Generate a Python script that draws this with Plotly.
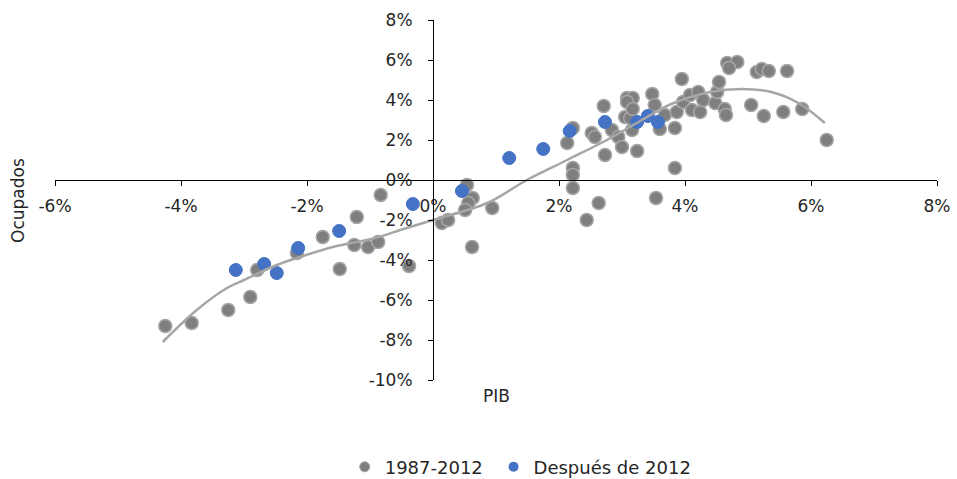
import plotly.graph_objects as go

# Series 1987-2012 (PIB %, Ocupados %)
pib_hist = [-4.25, -3.83, -3.25, -2.90, -2.79, -2.16, -1.75, -1.48, -1.21, -1.25, -1.03, -0.87, -0.83, -0.38,
            0.14, 0.24, 0.54, 0.63, 0.56, 0.51, 0.94, 0.62, 2.22, 2.22, 2.22, 2.63, 2.44, 3.54,
            2.13, 2.22, 2.52, 2.57, 2.71, 2.73, 2.84, 2.94, 3.00, 3.24, 3.16, 3.05, 3.13, 3.08, 3.17, 3.08,
            3.17, 3.48, 3.52, 3.68, 3.60, 3.84, 3.84, 3.87, 3.95, 3.97, 4.08, 4.21, 4.11, 4.24, 4.29, 4.48,
            4.51, 4.54, 4.63, 4.65, 4.67, 4.83, 4.70, 5.14, 5.22, 5.33, 5.62, 5.05, 5.25, 5.56, 5.86, 6.25]
ocu_hist = [-7.3, -7.15, -6.5, -5.85, -4.5, -3.65, -2.85, -4.45, -1.85, -3.25, -3.35, -3.1, -0.75, -4.3,
            -2.15, -2.0, -0.25, -0.9, -1.15, -1.5, -1.4, -3.35, 0.6, 0.25, -0.4, -1.15, -2.0, -0.9,
            1.85, 2.6, 2.35, 2.15, 3.7, 1.25, 2.5, 2.15, 1.65, 1.45, 2.5, 3.15, 3.1, 4.1, 4.1, 3.9,
            3.55, 4.3, 3.75, 3.25, 2.55, 2.6, 0.6, 3.4, 5.05, 3.9, 4.25, 4.4, 3.5, 3.4, 4.0, 3.85,
            4.4, 4.9, 3.55, 3.25, 5.85, 5.9, 5.6, 5.4, 5.55, 5.45, 5.45, 3.75, 3.2, 3.4, 3.55, 2.0]

# Series después de 2012
pib_post = [-3.13, -2.68, -2.48, -2.14, -1.49, -0.32, 0.46, 1.21, 1.75, 2.17, 2.73, 3.24, 3.41, 3.57]
ocu_post = [-4.5, -4.2, -4.65, -3.4, -2.55, -1.2, -0.55, 1.1, 1.55, 2.45, 2.9, 2.9, 3.2, 2.9]

# Trend line
trend_x = [-4.29, -3.75, -3.27, -3.0, -2.48, -2.11, -1.59, -1.21, -0.84, -0.52, 0.0, 0.86, 1.49, 2.13,
           2.76, 3.29, 3.78, 4.4, 4.9, 5.37, 5.8, 6.22]
trend_y = [-8.1, -6.5, -5.4, -5.0, -4.25, -3.85, -3.35, -3.1, -2.83, -2.5, -2.0, -1.15, 0.0, 1.0,
           2.0, 2.95, 3.8, 4.4, 4.55, 4.4, 3.85, 2.85]

x_ticks = [-6, -4, -2, 0, 2, 4, 6, 8]
y_ticks = [-10, -8, -6, -4, -2, 0, 2, 4, 6, 8]
x_labels = [f"{v}%" for v in x_ticks]
y_labels = [f"{v}%" for v in y_ticks]

FONT = "DejaVu Sans"
TXT = "#262626"

fig = go.Figure()
fig.add_trace(go.Scatter(x=pib_hist, y=ocu_hist, mode="markers", name="1987-2012", showlegend=False,
                         marker=dict(size=13, color="#7f7f7f", line=dict(color="#a6a6a6", width=1.5))))
fig.add_trace(go.Scatter(x=pib_post, y=ocu_post, mode="markers", name="Después de 2012", showlegend=False,
                         marker=dict(size=13, color="#4472c4", line=dict(color="#4472c4", width=1))))
fig.add_trace(go.Scatter(x=trend_x, y=trend_y, mode="lines", showlegend=False, hoverinfo="skip",
                         line=dict(color="#a6a6a6", width=2.5, shape="spline")))
# legend entries
fig.add_trace(go.Scatter(x=[None], y=[None], mode="markers", name="1987-2012\u00a0",
                         marker=dict(size=10, color="#7f7f7f", line=dict(color="#a6a6a6", width=1))))
fig.add_trace(go.Scatter(x=[None], y=[None], mode="markers", name="Después de 2012",
                         marker=dict(size=10, color="#4472c4")))

x_range = [-6, 8]
y_range = [-10, 8]

fig.update_layout(
    width=957, height=479,
    margin=dict(l=55, r=20, t=20, b=99, autoexpand=False),
    paper_bgcolor="white", plot_bgcolor="white",
    font=dict(family=FONT, size=17, color=TXT),
    xaxis=dict(range=x_range, domain=[0, 1], anchor="free", automargin=False,
               position=(0 - y_range[0]) / (y_range[1] - y_range[0]),
               tickvals=x_ticks, ticktext=x_labels, showgrid=False, zeroline=False,
               showline=True, linecolor="black", linewidth=1, ticklabelstandoff=6,
               ticks="outside", ticklen=5, tickcolor="black"),
    yaxis=dict(range=y_range, domain=[0, 1], anchor="free", automargin=False,
               position=(0 - x_range[0]) / (x_range[1] - x_range[0]),
               tickvals=y_ticks, ticktext=y_labels, showgrid=False, zeroline=False,
               showline=True, linecolor="black", linewidth=1, ticklabelstandoff=12,
               ticks="outside", ticklen=5, tickcolor="black"),
    legend=dict(orientation="h", x=0.528, xanchor="center", y=-0.242, yanchor="middle",
                font=dict(size=18, color=TXT), bgcolor="rgba(0,0,0,0)"),
    annotations=[
        dict(text="PIB", xref="paper", yref="paper", x=0.5, y=-0.045, xanchor="center", yanchor="middle",
             showarrow=False, font=dict(size=17, color=TXT)),
        dict(text="Ocupados", xref="paper", yref="paper", x=-0.042, y=0.5, xanchor="center", yanchor="middle",
             textangle=-90, showarrow=False, font=dict(size=17, color=TXT)),
    ],
)

fig.write_html("out.html", config={"displayModeBar": False},
               post_script="document.body.style.margin='0';")
